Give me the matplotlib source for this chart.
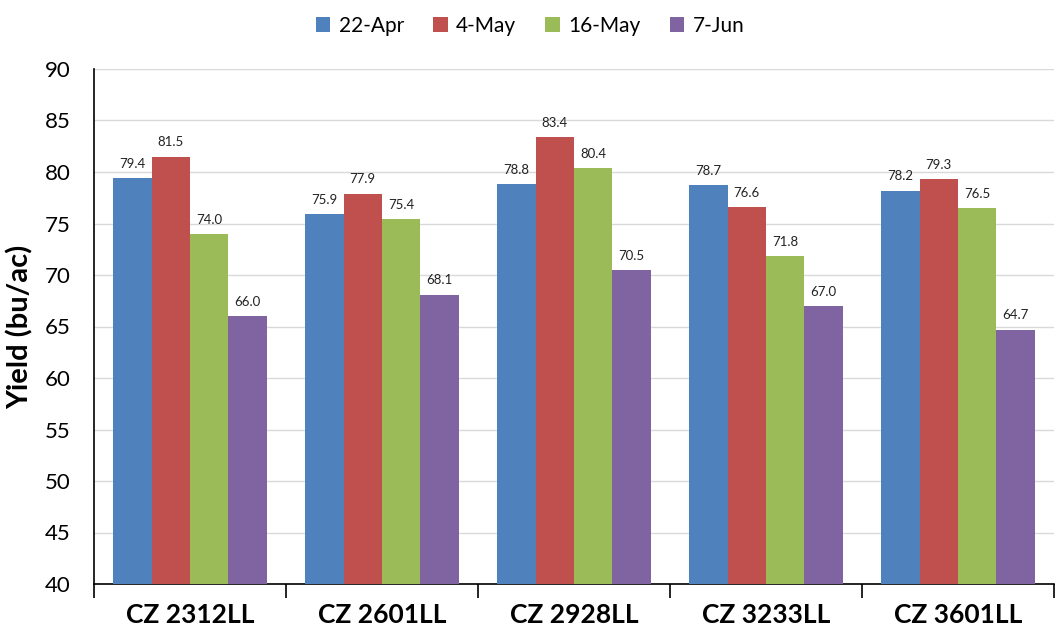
import matplotlib
matplotlib.use("Agg")
import matplotlib.pyplot as plt
import numpy as np

categories = ["CZ 2312LL", "CZ 2601LL", "CZ 2928LL", "CZ 3233LL", "CZ 3601LL"]
series_names = ["22-Apr", "4-May", "16-May", "7-Jun"]
apr22 = [79.4, 75.9, 78.8, 78.7, 78.2]
may4 = [81.5, 77.9, 83.4, 76.6, 79.3]
may16 = [74.0, 75.4, 80.4, 71.8, 76.5]
jun7 = [66.0, 68.1, 70.5, 67.0, 64.7]
colors = ["#4F81BD", "#C0504D", "#9BBB59", "#8064A2"]

plt.rcParams['font.family'] = ['Lato', 'DejaVu Sans']

fig = plt.figure(figsize=(10.6, 6.41), dpi=100)
ax = fig.add_axes([94/1060, 1-584/641, (1054-94)/1060, (584-69)/641])

data = [apr22, may4, may16, jun7]
x = np.arange(len(categories))
bw = 0.2
for i, (vals, name, c) in enumerate(zip(data, series_names, colors)):
    pos = x + (i - 1.5) * bw
    ax.bar(pos, np.array(vals) - 40, bottom=40, width=bw, color=c, label=name, zorder=3)
    for p, v in zip(pos, vals):
        ax.text(p, v + 0.8, f"{v:.1f}", ha='center', va='bottom', fontsize=9.5, color='#222222')

ax.set_ylim(40, 90)
ax.set_xlim(-0.5, len(categories) - 0.5)
ax.set_yticks(np.arange(40, 91, 5))
ax.yaxis.grid(True, color='#D9D9D9', linewidth=1, zorder=0)
ax.set_axisbelow(True)
ax.tick_params(axis='y', length=0, labelsize=16, pad=17)
ax.set_xticks(x)
ax.set_xticklabels(categories, fontsize=19, fontweight='bold')
ax.tick_params(axis='x', length=0, pad=14)
ax.set_xticks(np.arange(-0.5, len(categories) + 0.5, 1), minor=True)
ax.tick_params(axis='x', which='minor', length=10, width=1.2, direction='out', color='black')
for s in ['top', 'right']:
    ax.spines[s].set_visible(False)
ax.spines['left'].set_linewidth(1.2)
ax.spines['bottom'].set_linewidth(1.2)
ax.set_ylabel("Yield (bu/ac)", fontsize=21, fontweight='bold', labelpad=8)

fig.legend(loc='upper center', bbox_to_anchor=(0.5, 1.005), ncol=4, frameon=False, fontsize=15,
           handlelength=0.7, handleheight=0.7, handletextpad=0.4, columnspacing=1.4)

fig.savefig("out.png", dpi=100)
